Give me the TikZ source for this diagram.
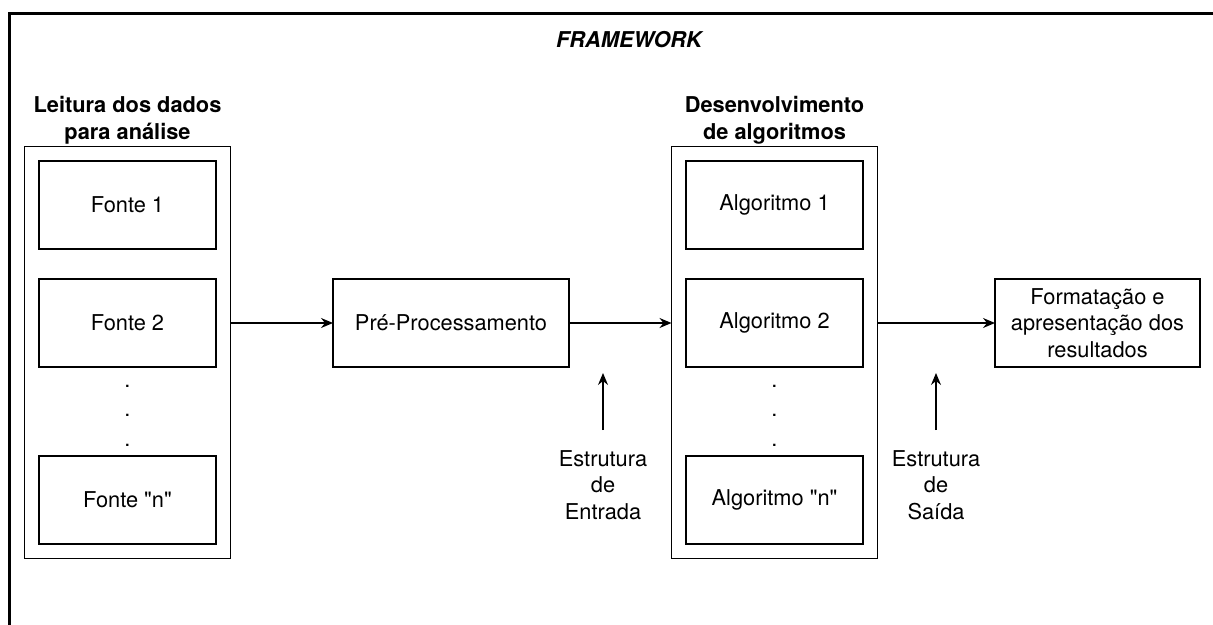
\documentclass[tikz,border=0pt]{standalone}
\usepackage{fontspec}
\setmainfont{TeX Gyre Heros}[Ligatures=TeXOff]
\usepackage{tikz}
\usetikzlibrary{arrows, arrows.meta, positioning, fit}
\newcommand{\fonteBase}{\fontsize{21.8pt}{26.5pt}\selectfont}
\tikzset{
    caixa/.style={rectangle, minimum width=177pt, minimum height=88pt, outer sep=0pt, text centered, draw=black, line width=1.3pt},
    process/.style={rectangle, minimum height=88pt, outer sep=0pt, align=center, draw=black, line width=1.3pt},
    grupo/.style={rectangle, draw=black, line width=1.3pt, inner sep=14.5pt, outer sep=0pt},
    titulo/.style={font=\fonteBase\bfseries, align=center, inner sep=0pt},
    rotulo/.style={align=center, inner sep=0pt},
    pontos/.style={align=center, inner sep=0pt, font=\fontsize{21.8pt}{29.5pt}\selectfont},
    arrow/.style={line width=1.3pt, -{Stealth[length=12pt, width=10pt, inset=4pt]}}
}

\begin{document}
\begin{tikzpicture}[x=1pt, y=-1pt, font=\fonteBase]
\useasboundingbox (0,0) rectangle (1213,624);

% Moldura externa (sai pela direita e por baixo)
\begin{scope}
\clip (0,0) rectangle (1213,624);
\draw [line width=3pt] (9,13) rectangle (1260,680);
\end{scope}

\node (framework) [font=\fonteBase\bfseries\itshape] at (629,40) {FRAMEWORK};

% Leitura dos dados
\node (fonte2) [caixa] at (127.5,323) {Fonte 2};
\node (fonte1) [caixa, above=30pt of fonte2] {Fonte 1};
\node (pontosLeitura) [pontos, below=18pt of fonte2] {.\\.\\.};
\node (fonten) [caixa, below=89pt of fonte2] {Fonte "n"};
\node (grupoLeitura) [grupo, fit=(fonte1)(fonten)] {};
\node (tituloLeitura) [titulo, above=2.5pt of grupoLeitura] {Leitura dos dados\\para análise};

% Pre-processamento
\node (pre) [process, minimum width=236pt, right=117pt of fonte2] {Pré-Processamento};

% Algoritmos
\node (alg2) [caixa, right=117pt of pre] {Algoritmo 2};
\node (alg1) [caixa, above=30pt of alg2] {Algoritmo 1};
\node (pontosAlg) [pontos, below=18pt of alg2] {.\\.\\.};
\node (algn) [caixa, below=89pt of alg2] {Algoritmo "n"};
\node (grupoAlg) [grupo, fit=(alg1)(algn)] {};
\node (tituloAlg) [titulo, above=2.5pt of grupoAlg] {Desenvolvimento\\de algoritmos};

% Saida
\node (formatacao) [process, minimum width=205pt, right=132pt of alg2] {Formatação e\\apresentação dos\\resultados};

% Estruturas
\node (entrada) [rotulo] at (603,485) {Estrutura\\de\\Entrada};
\coordinate (pontaEntrada) at (603,373);
\node (saida) [rotulo] at (936,485) {Estrutura\\de\\Saída};
\coordinate (pontaSaida) at (936,373);

% Conectores
\draw [arrow] (grupoLeitura.east |- pre.west) -- (pre.west);
\draw [arrow] (pre.east) -- (grupoAlg.west |- pre.east);
\draw [arrow] (grupoAlg.east |- formatacao.west) -- (formatacao.west);
\draw [arrow, shorten <=20pt] (entrada.north) -- (pontaEntrada);
\draw [arrow, shorten <=20pt] (saida.north) -- (pontaSaida);

\end{tikzpicture}
\end{document}
